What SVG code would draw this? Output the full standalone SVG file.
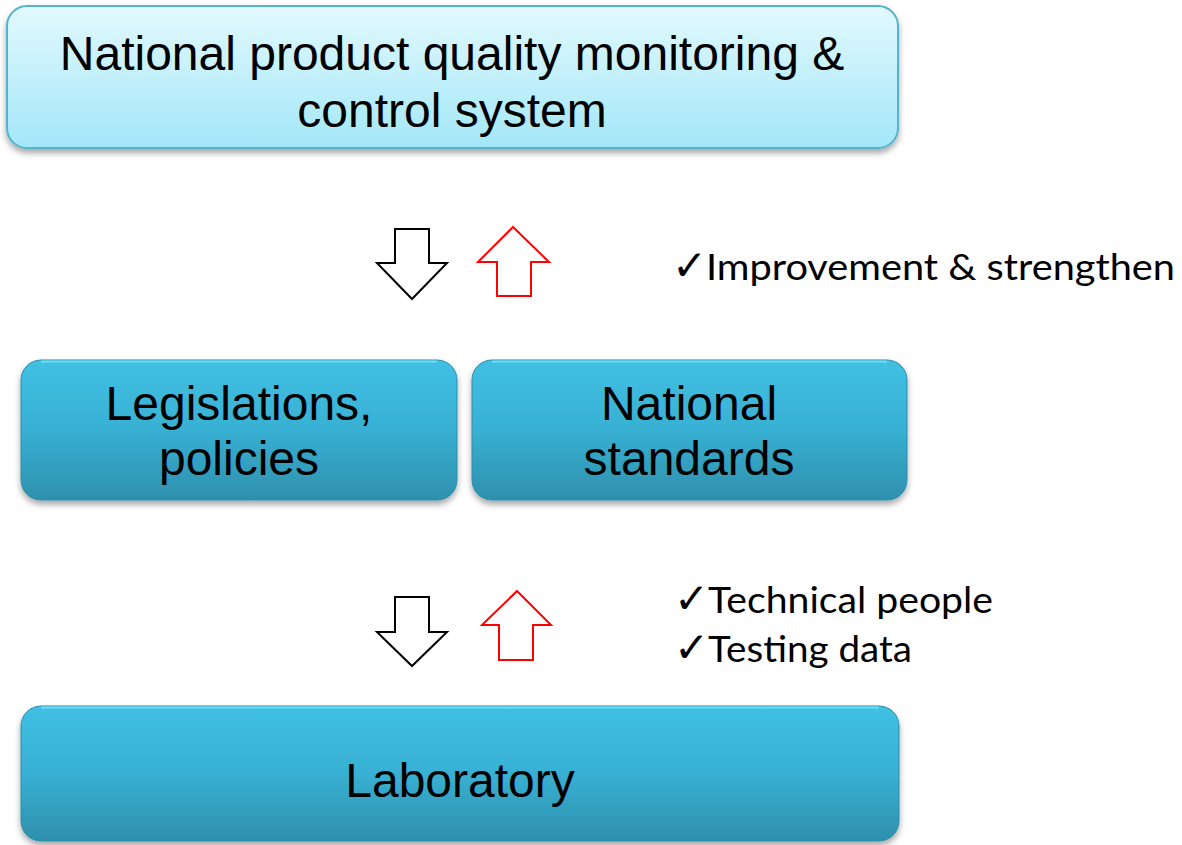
<svg xmlns="http://www.w3.org/2000/svg" width="1182" height="845" viewBox="0 0 1182 845">
<defs>
<linearGradient id="gTop" x1="0" y1="0" x2="0" y2="1">
<stop offset="0" stop-color="#e2f9fd"/>
<stop offset="1" stop-color="#a3e7f9"/>
</linearGradient>
<linearGradient id="gMid" x1="0" y1="0" x2="0" y2="1">
<stop offset="0" stop-color="#40c0e3"/>
<stop offset="0.5" stop-color="#38b0d3"/>
<stop offset="1" stop-color="#2e90ad"/>
</linearGradient>
<filter id="sh" x="-5%" y="-10%" width="110%" height="130%">
<feDropShadow dx="0" dy="4" stdDeviation="3" flood-color="#000" flood-opacity="0.35"/>
</filter>
</defs>
<style>
.big{font-family:"Liberation Sans",Arial,sans-serif;font-size:48px;fill:#000;text-anchor:middle}
.side{font-family:Lato,"Open Sans",sans-serif;font-size:36px;fill:#000}
.chk{font-family:"DejaVu Sans",sans-serif;font-size:42px;fill:#000}
.box{fill:url(#gMid);stroke:#2b8eab;stroke-width:1;filter:url(#sh)}
.hl{fill:none;stroke:#7fe6fb;stroke-width:2;opacity:0.8}
.dn{fill:#fff;stroke:#000;stroke-width:2;stroke-linejoin:miter}
.up{fill:#fff;stroke:#ff0000;stroke-width:2;stroke-linejoin:miter}
</style>
<rect width="1182" height="845" fill="#fff"/>
<g id="top">
<rect x="7" y="6" width="891" height="142" rx="20" fill="url(#gTop)" stroke="#56b3cc" stroke-width="2" filter="url(#sh)"/>
<text class="big" x="452" y="70">National product quality monitoring &amp;</text>
<text class="big" x="452" y="127">control system</text>
</g>
<g id="legislations">
<rect class="box" x="21" y="360" width="436" height="140" rx="20"/>
<path class="hl" d="M41 361.5 H437"/>
<text class="big" x="239" y="420">Legislations,</text>
<text class="big" x="239" y="475">policies</text>
</g>
<g id="standards">
<rect class="box" x="472" y="360" width="435" height="140" rx="20"/>
<path class="hl" d="M492 361.5 H887"/>
<text class="big" x="689" y="420">National</text>
<text class="big" x="689" y="475">standards</text>
</g>
<g id="laboratory">
<rect class="box" x="21" y="706" width="878" height="135" rx="20"/>
<path class="hl" d="M41 707.5 H879"/>
<text class="big" x="460" y="797">Laboratory</text>
</g>
<g id="connectors">
<polygon class="dn" points="395,229 429,229 429,263 447,263 412,299 377,263 395,263"/>
<polygon class="up" points="513,227 549,262 531,262 531,296 497,296 497,262 478,262"/>
<polygon class="dn" points="395,597 429,597 429,632 447,632 412,666 377,632 395,632"/>
<polygon class="up" points="517,591 551,625 533,625 533,660 499,660 499,625 482,625"/>
</g>
<g id="notes">
<text class="chk" x="672" y="280">✓</text>
<text class="side" x="706" y="280" textLength="469" lengthAdjust="spacingAndGlyphs">Improvement &amp; strengthen</text>
<text class="chk" x="674" y="613">✓</text>
<text class="side" x="708" y="613" textLength="285" lengthAdjust="spacingAndGlyphs">Technical people</text>
<text class="chk" x="674" y="662">✓</text>
<text class="side" x="708" y="662" textLength="204" lengthAdjust="spacingAndGlyphs">Testing data</text>
</g>
</svg>
